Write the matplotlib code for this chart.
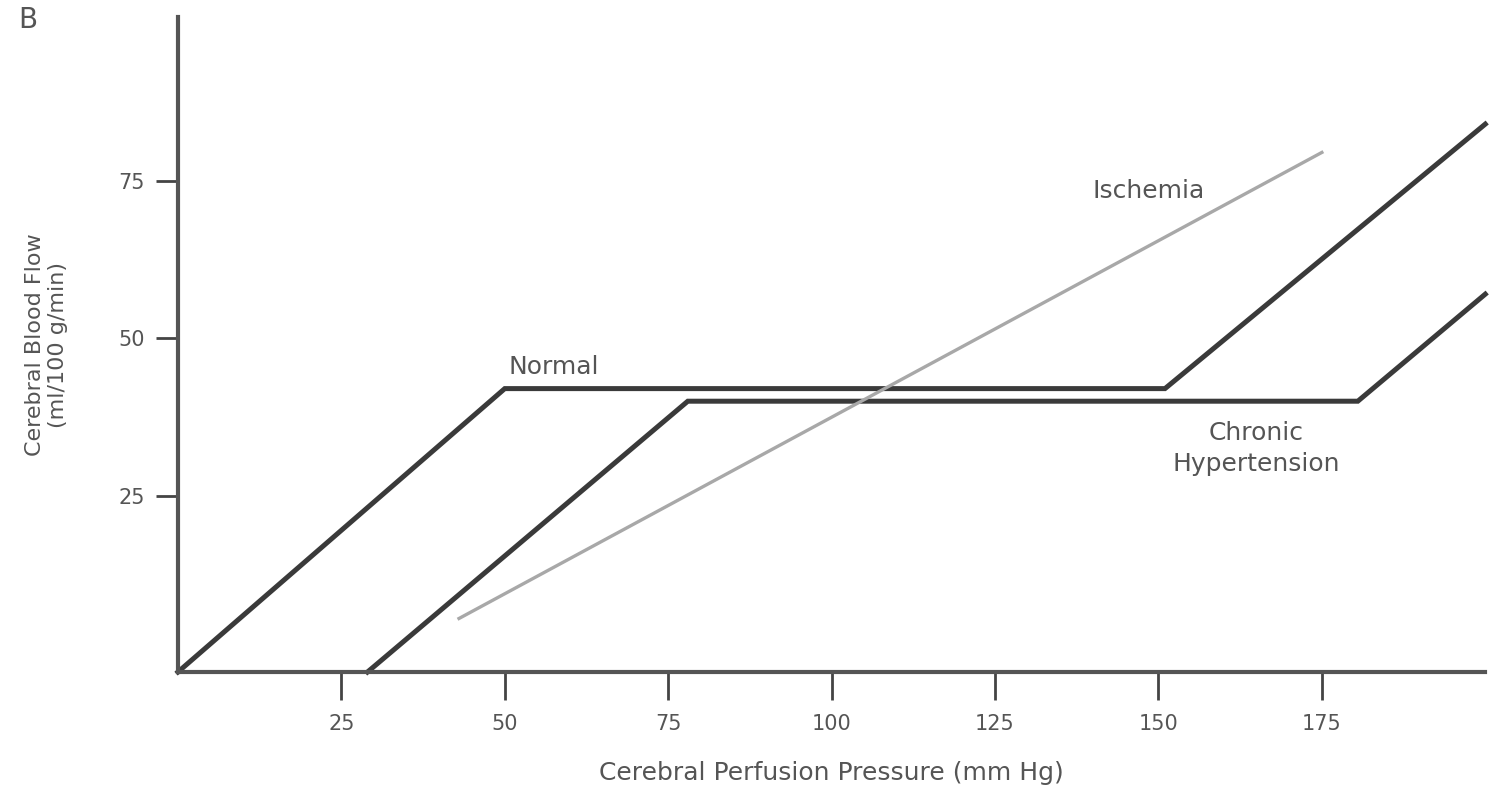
import matplotlib.pyplot as plt

# data
normal_x = [0, 50, 151, 200]
normal_y = [-3, 42, 42, 84]
chronic_x = [29, 78, 180.5, 200]
chronic_y = [-3, 40, 40, 57]
ischemia_x = [43, 175]
ischemia_y = [5.5, 79.5]

xticks = [25, 50, 75, 100, 125, 150, 175]
yticks = [25, 50, 75]

plt.rcParams['font.family'] = ['DejaVu Sans']

fig = plt.figure(figsize=(14.89, 7.92), dpi=100)
ax = fig.add_axes([0.1195, 0.1515, 0.878, 0.827])

dark = '#3a3a3a'
ax.plot(normal_x, normal_y, color=dark, linewidth=3.6, solid_joinstyle='miter', clip_on=False)
ax.plot(chronic_x, chronic_y, color=dark, linewidth=3.6, solid_joinstyle='miter', clip_on=False)
ax.plot(ischemia_x, ischemia_y, color='#a8a8a8', linewidth=2.4)

ax.set_xlim(0, 200)
ax.set_ylim(-3, 101)
ax.set_xticks(xticks)
ax.set_yticks(yticks)

ax.spines['top'].set_visible(False)
ax.spines['right'].set_visible(False)
for s in ['left', 'bottom']:
    ax.spines[s].set_linewidth(3)
    ax.spines[s].set_color('#555555')

ax.tick_params(axis='x', length=20, width=2, color='#444444', labelsize=15, labelcolor='#555555', pad=10)
ax.tick_params(axis='y', length=16, width=2, color='#444444', labelsize=15, labelcolor='#555555', pad=8)

ax.set_xlabel('Cerebral Perfusion Pressure (mm Hg)', fontsize=18, color='#555555', labelpad=20)
ax.set_ylabel('Cerebral Blood Flow\n(ml/100 g/min)', fontsize=16, color='#555555', labelpad=36)

ax.text(50.5, 45.5, 'Normal', fontsize=18, color='#555555', ha='left', va='center')
ax.text(148.5, 73.3, 'Ischemia', fontsize=18, color='#555555', ha='center', va='center')
ax.text(165, 32.5, 'Chronic\nHypertension', fontsize=18, color='#555555', ha='center', va='center',
        linespacing=1.4)

fig.text(0.019, 0.975, 'B', fontsize=20, color='#555555', ha='center', va='center')

fig.savefig('out.png', dpi=100)
